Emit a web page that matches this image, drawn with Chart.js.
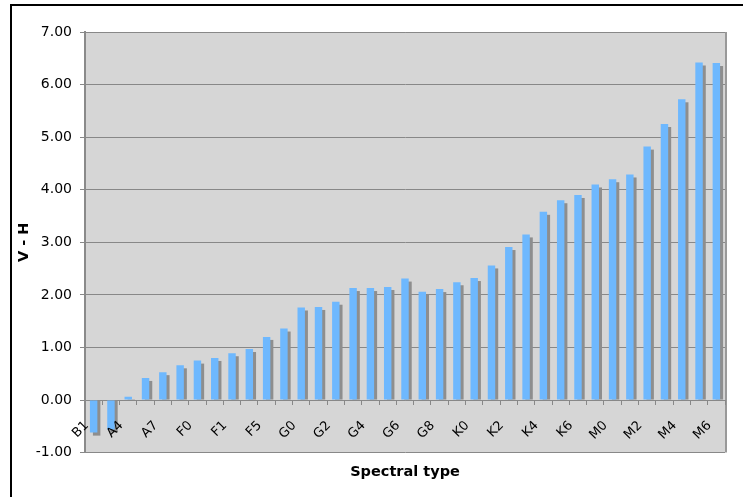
<!DOCTYPE html>
<html>
<head>
<meta charset="utf-8">
<script src="https://cdn.jsdelivr.net/npm/chart.js@4/dist/chart.umd.min.js"></script>
<style>
  html, body { margin: 0; padding: 0; background: #fff; overflow: hidden; }
  #frame { position: absolute; left: 10px; top: 4px; width: 800px; height: 600px;
           border-left: 2px solid #000; border-top: 2px solid #000; }
  #wrap { position: absolute; left: 0; top: 0; width: 743px; height: 497px; }
</style>
</head>
<body>
<div id="frame"></div>
<div id="wrap"><canvas id="myChart"></canvas></div>
<script>
// spectral types (only every other one is labelled on the axis)
let types = ['B1', 'B5', 'A4', 'A5', 'A7', 'A9', 'F0', 'F0.5', 'F1', 'F3', 'F5', 'F8',
             'G0', 'G1', 'G2', 'G3', 'G4', 'G5', 'G6', 'G7', 'G8', 'G9',
             'K0', 'K1', 'K2', 'K3', 'K4', 'K5', 'K6', 'K7',
             'M0', 'M1', 'M2', 'M3', 'M4', 'M5', 'M6'];

let vh = [-0.62, -0.56, 0.06, 0.42, 0.53, 0.66, 0.75, 0.80, 0.89, 0.97, 1.20, 1.36,
          1.76, 1.77, 1.87, 2.13, 2.13, 2.15, 2.31, 2.06, 2.11, 2.24,
          2.32, 2.56, 2.91, 3.15, 3.58, 3.80, 3.90, 4.10,
          4.20, 4.29, 4.82, 5.25, 5.72, 6.42, 6.41];

let yTicks = [-1, 0, 1, 2, 3, 4, 5, 6, 7];

// grey plot area + excel-like border
let plotBg = {
    id: 'plotBg',
    beforeDraw(chart) {
        let a = chart.chartArea;
        let ctx = chart.ctx;
        ctx.save();
        ctx.fillStyle = '#d6d6d6';
        ctx.fillRect(a.left, a.top, a.right - a.left, a.bottom - a.top);
        ctx.strokeStyle = '#a8a8a8';
        ctx.lineWidth = 1;
        ctx.beginPath();
        ctx.moveTo(a.left, a.top + 0.5);
        ctx.lineTo(a.right, a.top + 0.5);
        ctx.stroke();
        ctx.strokeStyle = '#999';
        ctx.lineWidth = 2;
        ctx.beginPath();
        ctx.moveTo(a.right + 1, a.top);
        ctx.lineTo(a.right + 1, a.bottom);
        ctx.stroke();
        ctx.restore();
    }
};

// grey shadow behind each bar, shifted 3px right / down, taken from the bar elements
let barShadow = {
    id: 'barShadow',
    beforeDatasetsDraw(chart) {
        let ctx = chart.ctx;
        let off = 3;
        ctx.save();
        ctx.fillStyle = '#8e8e8e';
        chart.getDatasetMeta(0).data.forEach(function (bar) {
            let p = bar.getProps(['x', 'y', 'base', 'width'], true);
            let left = p.x - p.width / 2 + off;
            if (p.y < p.base) {
                ctx.fillRect(left, p.y + off, p.width, p.base - p.y - off);
            } else {
                ctx.fillRect(left, p.base, p.width, p.y - p.base + off);
            }
        });
        ctx.restore();
    }
};

let ctx1 = document.getElementById('myChart').getContext('2d');

let chart1 = new Chart(ctx1, {
    type: 'bar',
    data: {
        labels: types,
        datasets: [{
            data: vh,
            backgroundColor: '#6eb8fe',
            borderWidth: 0,
            barPercentage: 0.43,
            categoryPercentage: 1.0
        }]
    },
    options: {
        responsive: true,
        maintainAspectRatio: false,
        animation: false,
        devicePixelRatio: 1,
        layout: {
            padding: { left: 10, top: 32, right: 18, bottom: 8 }
        },
        plugins: {
            legend: { display: false },
            tooltip: { enabled: false },
            title: {
                display: true,
                fullSize: false,
                position: 'bottom',
                text: 'Spectral type',
                color: '#000',
                font: { family: 'DejaVu Sans', size: 14.5, weight: 'bold' },
                padding: { top: 11, bottom: 8 }
            }
        },
        scales: {
            x: {
                position: { y: 0 },
                grid: {
                    drawOnChartArea: false,
                    drawTicks: true,
                    tickLength: 4,
                    color: '#888'
                },
                border: { color: '#888', width: 1 },
                ticks: {
                    z: 1,
                    autoSkip: false,
                    minRotation: 45,
                    maxRotation: 45,
                    padding: 14,
                    labelOffset: -7,
                    color: '#000',
                    font: { family: 'DejaVu Sans', size: 13 },
                    callback: function (v, i) { return i % 2 === 0 ? types[i] : ''; }
                }
            },
            y: {
                min: -1,
                max: 7,
                afterBuildTicks: function (scale) {
                    scale.ticks = yTicks.map(v => ({ value: v }));
                },
                afterFit: function (scale) { scale.width = 75; },
                grid: {
                    color: '#888',
                    lineWidth: 1,
                    tickLength: 5
                },
                border: { color: '#8a8a8a', width: 2 },
                ticks: {
                    padding: 8,
                    color: '#000',
                    font: { family: 'DejaVu Sans', size: 14 },
                    callback: function (v) { return Number(v).toFixed(2); }
                },
                title: {
                    display: true,
                    text: 'V - H',
                    color: '#000',
                    padding: { top: 6, bottom: 4 },
                    font: { family: 'DejaVu Sans', size: 14.5, weight: 'bold' }
                }
            }
        }
    },
    plugins: [plotBg, barShadow]
});
</script>
</body>
</html>
